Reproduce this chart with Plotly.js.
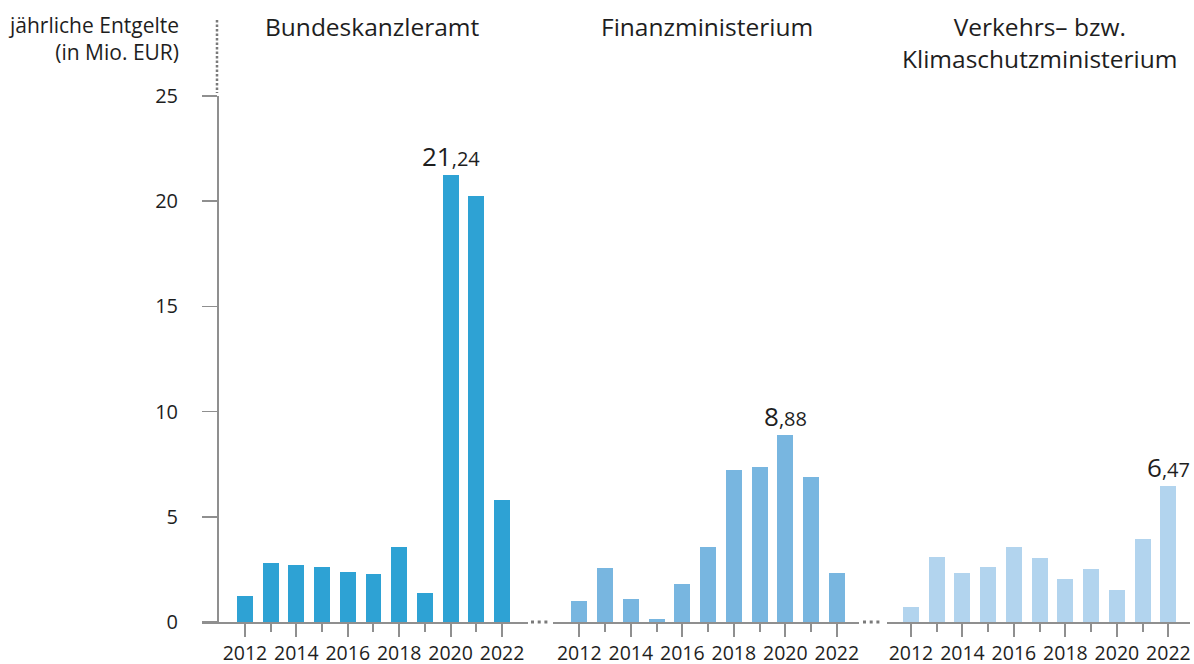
<!DOCTYPE html>
<html>
<head>
<meta charset="utf-8">
<script src="https://cdn.plot.ly/plotly-3.0.1.min.js"></script>
<style>html,body{margin:0;padding:0;background:#fff;}#chart{width:1194px;height:664px;}</style>
</head>
<body>
<div id="chart"></div>
<script>
const years = [2012, 2013, 2014, 2015, 2016, 2017, 2018, 2019, 2020, 2021, 2022];
const kanzleramt = [1.24, 2.80, 2.71, 2.61, 2.38, 2.28, 3.56, 1.38, 21.24, 20.26, 5.80];
const finanz = [1.00, 2.57, 1.09, 0.14, 1.81, 3.56, 7.22, 7.37, 8.88, 6.89, 2.33];
const verkehr = [0.71, 3.09, 2.33, 2.61, 3.56, 3.04, 2.04, 2.52, 1.52, 3.94, 6.47];
const panelTitles = ["Bundeskanzleramt", "Finanzministerium", "Verkehrs– bzw.<br>Klimaschutzministerium"];
const yTicks = [0, 5, 10, 15, 20, 25];
const xTicks = [2012, 2014, 2016, 2018, 2020, 2022];
const yTitle = "jährliche Entgelte<br>(in Mio. EUR)";

const W = 1194, H = 664;
const px = v => v / W;
const py = v => 1 - v / H;
const FONT = "Open Sans, sans-serif";
const TXT = "#1e1e1e";
const GRID = "#8f8f8f";

const series = [kanzleramt, finanz, verkehr];
const colors = ["#2ea2d4", "#78b6e0", "#b2d4ee"];
const axisNames = ["x", "x2", "x3"];

const traces = series.map((vals, i) => ({
  type: "bar",
  x: years,
  y: vals,
  xaxis: axisNames[i],
  yaxis: "y",
  width: 0.62,
  marker: {color: colors[i]},
  hoverinfo: "skip",
  showlegend: false
}));

function xAxis(domainPx, range) {
  return {
    domain: [px(domainPx[0]), px(domainPx[1])],
    range: range,
    anchor: "y",
    showline: true, linecolor: GRID, linewidth: 2,
    showgrid: false, zeroline: false,
    tickmode: "array", tickvals: xTicks, ticktext: xTicks.map(String),
    ticks: "outside", ticklen: 13, tickwidth: 2, tickcolor: GRID,
    ticklabelstandoff: 0,
    minor: {tickmode: "array", tickvals: years.filter(y => y % 2 === 1), ticks: "outside", ticklen: 8, tickwidth: 2, tickcolor: GRID},
    tickfont: {family: FONT, size: 19.5, color: TXT},
    fixedrange: true
  };
}

function fmtLabel(v) {
  const parts = v.toFixed(2).split(".");
  return '<span style="font-size:26px">' + parts[0] + '</span><span style="font-size:20px">,' + parts[1] + '</span>';
}

const maxIdx = [8, 8, 10];
const valueAnn = series.map((vals, i) => ({
  xref: axisNames[i], yref: "y",
  x: years[maxIdx[i]], y: vals[maxIdx[i]],
  text: fmtLabel(vals[maxIdx[i]]),
  showarrow: false, xanchor: "center", yanchor: "bottom",
  yshift: -1,
  font: {family: FONT, size: 26, color: TXT}
}));

const titleAnn = panelTitles.map((t, i) => ({
  xref: axisNames[i] + " domain", yref: "paper",
  x: 0.5, y: py(8), xanchor: "center", yanchor: "top",
  xshift: i === 0 ? 7 : 1,
  text: t, showarrow: false,
  font: {family: FONT, size: 24.5, color: TXT}
}));

const yTitleAnn = {
  xref: "paper", yref: "paper", x: px(181), y: py(9),
  xanchor: "right", yanchor: "top", align: "right",
  text: yTitle, showarrow: false,
  font: {family: FONT, size: 21, color: TXT}
};

const dotLine = (x0, y0, x1, y1, w, dash) => ({
  type: "line", xref: "paper", yref: "paper",
  x0: px(x0), y0: py(y0), x1: px(x1), y1: py(y1),
  line: {color: "#7a7a7a", width: w, dash: dash}
});

const layout = {
  width: W, height: H,
  margin: {l: 0, r: 0, t: 0, b: 0},
  paper_bgcolor: "#ffffff", plot_bgcolor: "rgba(0,0,0,0)",
  font: {family: FONT, color: TXT},
  bargap: 0,
  xaxis: xAxis([202, 528], [2010.33, 2023.01]),
  xaxis2: xAxis([553, 859], [2010.98, 2022.86]),
  xaxis3: xAxis([887, 1190], [2011.07, 2022.84]),
  yaxis: {
    domain: [py(622), py(96)],
    range: [0, 25],
    anchor: "free", position: px(217),
    showline: true, linecolor: GRID, linewidth: 1.5,
    showgrid: false, zeroline: false,
    tickmode: "array", tickvals: yTicks, ticktext: yTicks.map(String),
    ticks: "outside", ticklen: 15, tickwidth: 1.5, tickcolor: GRID,
    ticklabelstandoff: 20,
    tickfont: {family: FONT, size: 20, color: TXT},
    fixedrange: true
  },
  shapes: [
    dotLine(217, 20, 217, 93, 2.5, "2.5px,2px"),
    dotLine(531, 622, 550, 622, 3, "3px,3.7px"),
    dotLine(863, 622, 882, 622, 3, "3px,3.7px")
  ],
  annotations: [yTitleAnn].concat(titleAnn, valueAnn)
};

Plotly.newPlot("chart", traces, layout, {staticPlot: true, displayModeBar: false});
</script>
</body>
</html>
